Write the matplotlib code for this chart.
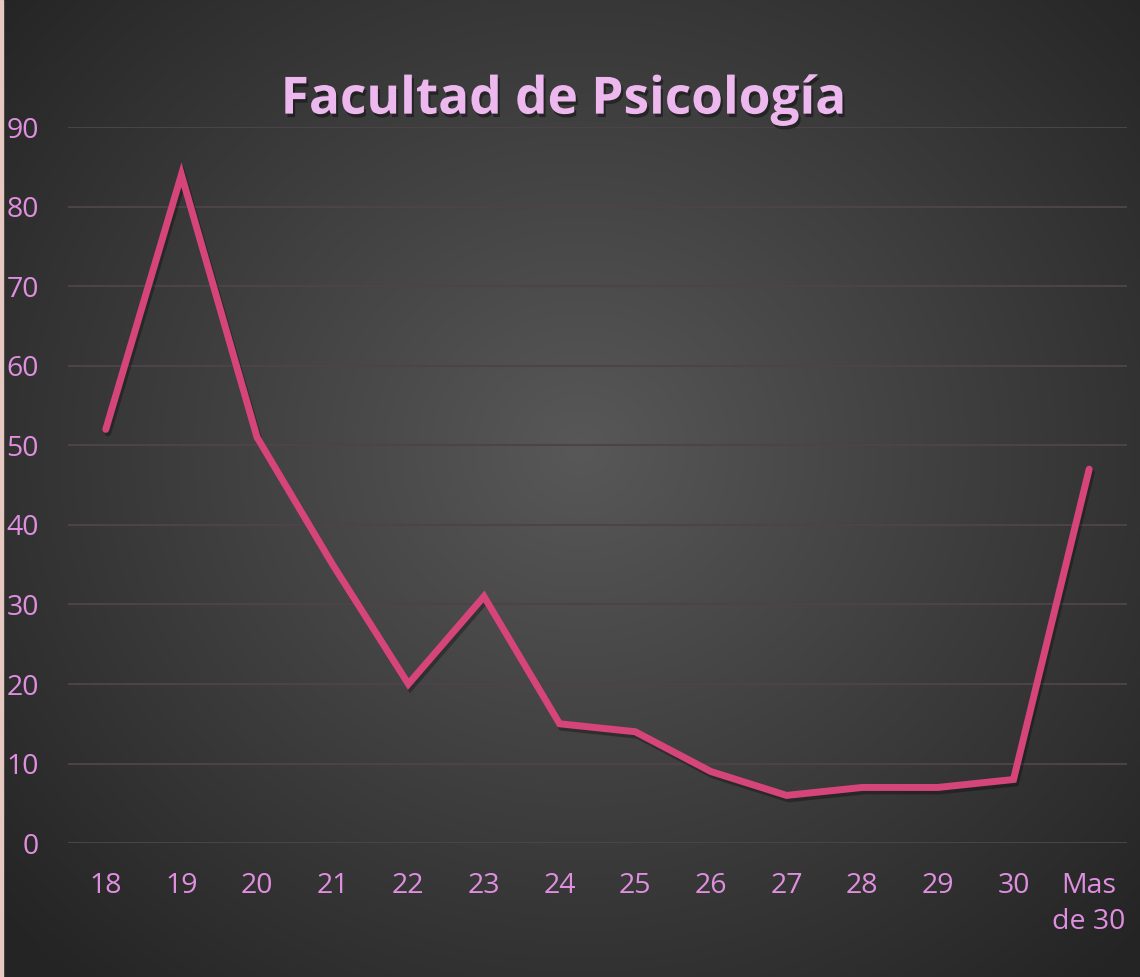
"""
plot.py

Edades de estudiantes de la Facultad de Psicología.
"""

import numpy as np
import matplotlib
matplotlib.use("Agg")
import matplotlib.pyplot as plt
import matplotlib.patheffects as pe

categories = ["18", "19", "20", "21", "22", "23", "24", "25", "26", "27",
              "28", "29", "30", "Mas\nde 30"]
counts = [52, 84, 51, 35, 20, 31, 15, 14, 9, 6, 7, 7, 8, 47]
y_ticks = [0, 10, 20, 30, 40, 50, 60, 70, 80, 90]
title = "Facultad de Psicología"

LABEL_COLOR = "#E08FE0"
TITLE_COLOR = "#EDB8EE"
LINE_COLOR = "#D6457A"
GRID_COLOR = "#4C4349"

plt.rcParams["font.family"] = ["Open Sans", "DejaVu Sans"]

fig = plt.figure(figsize=(11.4, 9.77), dpi=100)

# radial gradient background
bg = fig.add_axes([0, 0, 1, 1], zorder=0)
yy, xx = np.mgrid[0:977, 0:1140]
r = np.sqrt(((xx - 580) / 760) ** 2 + ((yy - 450) / 700) ** 2)
shade = np.clip(0.345 - 0.2 * r, 0.145, 1)
bg.imshow(np.dstack([shade, shade, shade]), aspect="auto", extent=[0, 1, 0, 1])
bg.axvspan(0, 0.0025, color="#E6C9C3")
bg.set_xlim(0, 1)
bg.set_ylim(0, 1)
bg.axis("off")

ax = fig.add_axes([0.0596, 0.137, 0.929, 0.733], zorder=1)
ax.patch.set_alpha(0)
x = np.arange(len(categories))
ax.plot(x, counts, color=LINE_COLOR, lw=5, solid_capstyle="round",
        solid_joinstyle="miter", zorder=3,
        path_effects=[pe.SimpleLineShadow(offset=(1.5, -2.5), shadow_color="black", alpha=0.3),
                      pe.Normal()])

ax.set_xlim(-0.5, len(categories) - 0.5)
ax.set_ylim(0, 90)
ax.set_yticks(y_ticks)
ax.set_xticks(x)
ax.set_xticklabels(categories, linespacing=1.35)
ax.tick_params(axis="both", length=0, labelsize=20.5, colors=LABEL_COLOR)
ax.tick_params(axis="y", pad=21)
ax.tick_params(axis="x", pad=21)
for lbl in ax.get_xticklabels():
    lbl.set_verticalalignment("top")
ax.grid(axis="y", color=GRID_COLOR, lw=1.5)
ax.set_axisbelow(True)
for s in ax.spines.values():
    s.set_visible(False)

fig.text(0.494, 0.897, title, ha="center", va="center", fontsize=37,
         fontweight="bold", color=TITLE_COLOR,
         path_effects=[pe.withSimplePatchShadow(offset=(1.5, -2.5), shadow_rgbFace="black", alpha=0.4)])

fig.savefig("out.png", dpi=100)
